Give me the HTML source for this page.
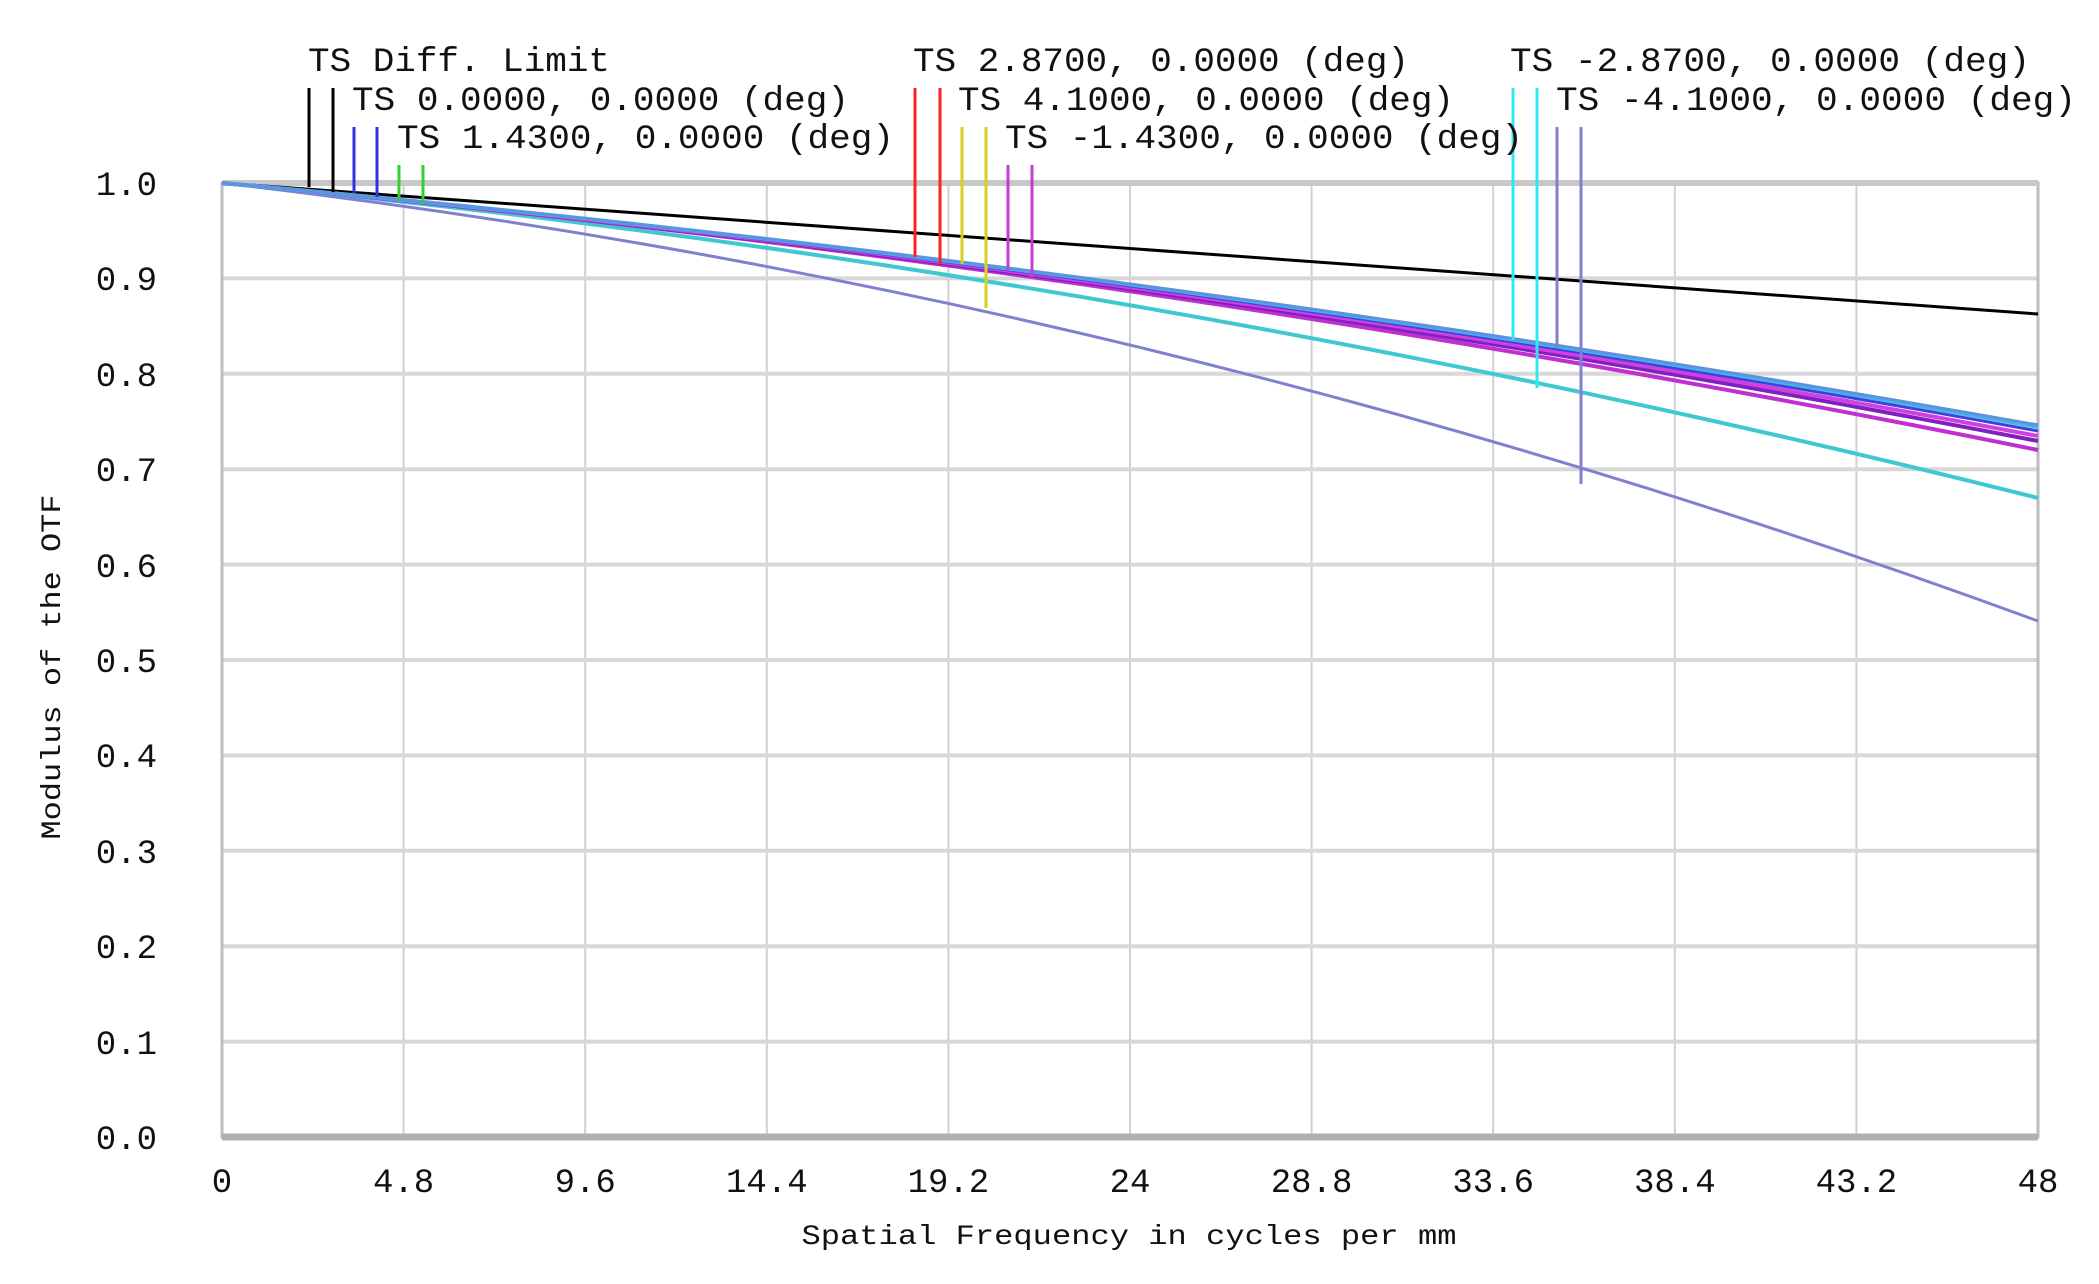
<!DOCTYPE html>
<html><head><meta charset="utf-8"><style>
html,body{margin:0;padding:0;background:#fff;}
svg{display:block;}
text{font-family:"Liberation Mono",monospace;font-size:34px;fill:#111;}
</style></head><body>
<svg width="2099" height="1284" viewBox="0 0 2099 1284" xmlns="http://www.w3.org/2000/svg">
<rect width="2099" height="1284" fill="#fff"/>
<g stroke="#d0d0d0" stroke-width="2">
<line x1="403.6" y1="183" x2="403.6" y2="1137"/>
<line x1="585.2" y1="183" x2="585.2" y2="1137"/>
<line x1="766.8" y1="183" x2="766.8" y2="1137"/>
<line x1="948.4" y1="183" x2="948.4" y2="1137"/>
<line x1="1130" y1="183" x2="1130" y2="1137"/>
<line x1="1311.6" y1="183" x2="1311.6" y2="1137"/>
<line x1="1493.2" y1="183" x2="1493.2" y2="1137"/>
<line x1="1674.8" y1="183" x2="1674.8" y2="1137"/>
<line x1="1856.4" y1="183" x2="1856.4" y2="1137"/>
</g>
<g stroke="#d8d8d8" stroke-width="4">
<line x1="222" y1="278.4" x2="2038" y2="278.4"/>
<line x1="222" y1="373.8" x2="2038" y2="373.8"/>
<line x1="222" y1="469.2" x2="2038" y2="469.2"/>
<line x1="222" y1="564.6" x2="2038" y2="564.6"/>
<line x1="222" y1="660" x2="2038" y2="660"/>
<line x1="222" y1="755.4" x2="2038" y2="755.4"/>
<line x1="222" y1="850.8" x2="2038" y2="850.8"/>
<line x1="222" y1="946.2" x2="2038" y2="946.2"/>
<line x1="222" y1="1041.6" x2="2038" y2="1041.6"/>
</g>
<rect x="222" y="183" width="1816" height="954" fill="none" stroke="#bdbdbd" stroke-width="3"/>
<line x1="222" y1="183" x2="2038" y2="183" stroke="#c8c8c8" stroke-width="6"/>
<line x1="222" y1="1137" x2="2038" y2="1137" stroke="#b0b0b0" stroke-width="7"/>

<!-- curves -->
<g fill="none" stroke-width="3">
<line x1="222" y1="183" x2="2038" y2="314" stroke="#000"/>
<path d="M222,183 Q1130,288 2038,621" stroke="#8080d0"/>
<path d="M222,183 Q1130,270 2038,498" stroke="#40c8d0" stroke-width="4"/>
<path d="M222,183 Q1130,266 2038,450" stroke="#c030d0" stroke-width="4"/>
<path d="M222,183 Q1130,266 2038,441" stroke="#8020c0" stroke-width="4"/>
<path d="M222,183 Q1130,265 2038,436" stroke="#d040e0" stroke-width="4"/>
<path d="M222,183 Q1130,265 2038,431" stroke="#4040e0" stroke-width="3"/>
<path d="M222,183 Q1130,264 2038,427" stroke="#40b8e0" stroke-width="4"/>
<path d="M222,183 Q1130,264 2038,425" stroke="#6090e0" stroke-width="3"/>
</g>

<!-- legend markers -->
<g stroke-width="3">
<line x1="309" y1="88" x2="309" y2="187" stroke="#000"/>
<line x1="333" y1="88" x2="333" y2="192" stroke="#000"/>
<line x1="354" y1="127" x2="354" y2="193" stroke="#3030e0"/>
<line x1="377" y1="127" x2="377" y2="197" stroke="#3030e0"/>
<line x1="399" y1="165" x2="399" y2="200" stroke="#30d030"/>
<line x1="423" y1="165" x2="423" y2="203" stroke="#30d030"/>
<line x1="915" y1="88" x2="915" y2="257" stroke="#ff2020"/>
<line x1="940" y1="88" x2="940" y2="264" stroke="#ff2020"/>
<line x1="962" y1="127" x2="962" y2="264" stroke="#d8d020"/>
<line x1="986" y1="127" x2="986" y2="308" stroke="#d8d020"/>
<line x1="1008" y1="165" x2="1008" y2="270" stroke="#c040d0"/>
<line x1="1032" y1="165" x2="1032" y2="277" stroke="#c040d0"/>
<line x1="1513" y1="88" x2="1513" y2="340" stroke="#30e8f0"/>
<line x1="1537" y1="88" x2="1537" y2="388" stroke="#30e8f0"/>
<line x1="1557" y1="127" x2="1557" y2="348" stroke="#8080d0"/>
<line x1="1581" y1="127" x2="1581" y2="484" stroke="#8080d0"/>
</g>

<!-- legend text -->
<text x="308" y="71" textLength="302" lengthAdjust="spacingAndGlyphs">TS Diff. Limit</text>
<text x="913" y="71" textLength="496" lengthAdjust="spacingAndGlyphs">TS 2.8700, 0.0000 (deg)</text>
<text x="1510" y="71" textLength="520" lengthAdjust="spacingAndGlyphs">TS -2.8700, 0.0000 (deg)</text>
<text x="352" y="110" textLength="497" lengthAdjust="spacingAndGlyphs">TS 0.0000, 0.0000 (deg)</text>
<text x="958" y="110" textLength="496" lengthAdjust="spacingAndGlyphs">TS 4.1000, 0.0000 (deg)</text>
<text x="1556" y="110" textLength="520" lengthAdjust="spacingAndGlyphs">TS -4.1000, 0.0000 (deg)</text>
<text x="397" y="148" textLength="497" lengthAdjust="spacingAndGlyphs">TS 1.4300, 0.0000 (deg)</text>
<text x="1005" y="148" textLength="518" lengthAdjust="spacingAndGlyphs">TS -1.4300, 0.0000 (deg)</text>

<!-- y tick labels -->
<g text-anchor="end">
<text x="157" y="195">1.0</text>
<text x="157" y="290">0.9</text>
<text x="157" y="386">0.8</text>
<text x="157" y="481">0.7</text>
<text x="157" y="577">0.6</text>
<text x="157" y="672">0.5</text>
<text x="157" y="767">0.4</text>
<text x="157" y="863">0.3</text>
<text x="157" y="958">0.2</text>
<text x="157" y="1054">0.1</text>
<text x="157" y="1149">0.0</text>
</g>
<!-- x tick labels -->
<g text-anchor="middle">
<text x="222" y="1192">0</text>
<text x="403.6" y="1192">4.8</text>
<text x="585.2" y="1192">9.6</text>
<text x="766.8" y="1192">14.4</text>
<text x="948.4" y="1192">19.2</text>
<text x="1130" y="1192">24</text>
<text x="1311.6" y="1192">28.8</text>
<text x="1493.2" y="1192">33.6</text>
<text x="1674.8" y="1192">38.4</text>
<text x="1856.4" y="1192">43.2</text>
<text x="2038" y="1192">48</text>
</g>
<text x="1129" y="1244" text-anchor="middle" style="font-size:28px" textLength="655" lengthAdjust="spacingAndGlyphs">Spatial Frequency in cycles per mm</text>
<text transform="translate(60,667) rotate(-90)" text-anchor="middle" style="font-size:28px" textLength="345" lengthAdjust="spacingAndGlyphs">Modulus of the OTF</text>
</svg>
</body></html>
